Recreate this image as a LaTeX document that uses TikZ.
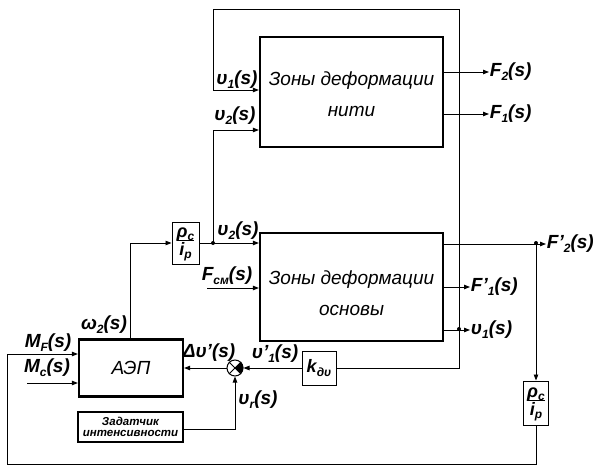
\documentclass[tikz,border=0pt]{standalone}
\usepackage{fontspec}
\setmainfont{Liberation Sans}
\usetikzlibrary{arrows.meta,calc}
\newcommand\sbx[1]{\raisebox{-0.35ex}{\fontsize{12}{12}\selectfont #1}}
\newcommand\sbs[1]{\raisebox{-0.35ex}{\fontsize{12}{12}\selectfont #1}}
\newcommand\rhofrac{\fontsize{18}{18}\selectfont\itshape\bfseries\setlength\arrayrulewidth{1pt}\begin{tabular}{@{}c@{}}ρ\sbs{c}\\[-3pt]\hline\rule{0pt}{15pt}i\sbs{p}\end{tabular}}
\begin{document}
\begin{tikzpicture}[x=1pt,y=-1pt,
  >={Triangle[length=6pt,width=4.5pt]},
  line width=0.9pt,
  bigbox/.style={draw,line width=2.2pt,inner sep=0pt,align=center,
    font=\fontsize{19}{31}\selectfont\itshape},
  smallbox/.style={draw,line width=1pt,inner sep=0pt},
  lab/.style={inner sep=0.5pt,font=\fontsize{19}{20}\selectfont\itshape\bfseries},
  dot/.style={circle,fill,inner sep=0pt,minimum size=4pt}]
\useasboundingbox (0,0) rectangle (602,468);
% blocks
\node[bigbox,minimum width=183,minimum height=110] (top) at (351.5,92) {\rule{0pt}{19pt}Зоны деформации\\нити};
\node[bigbox,minimum width=183,minimum height=108] (bot) at (351.5,287) {\rule{0pt}{26pt}Зоны деформации\\основы};
\node[bigbox,minimum width=104,minimum height=57] (aep) at (131,368) {АЭП};
\node[bigbox,minimum width=105,minimum height=30,
  font=\fontsize{11.5}{11}\selectfont\itshape\bfseries] (zad) at (130.5,427) {Задатчик\\интенсивности};
\node[smallbox,minimum width=27,minimum height=42] (rho1) at (185.5,243) {\rhofrac};
\node[smallbox,minimum width=25,minimum height=44] (rho2) at (536,403) {\rhofrac};
\node[smallbox,minimum width=34,minimum height=34] (kdv) at (319,368)
  {\fontsize{18}{18}\selectfont\itshape\bfseries k\sbs{дυ}};
\node[draw,circle,line width=1pt,minimum size=16pt,inner sep=0pt] (sum) at (235,368) {};
\fill (sum.center) -- (sum.45) arc[start angle=45,end angle=-45,radius=8pt] -- cycle;
\draw[line width=0.8pt] (sum.45) -- (sum.225) (sum.135) -- (sum.-45);
% coordinates
\coordinate (j1) at (459,329);
\coordinate (d2) at (213,243);
\coordinate (d3) at (536,243);
\coordinate (fb) at (7,464);
\coordinate (fsm) at (207,288);
\coordinate (mc) at (27,383);
\node[dot] at (j1) {};
\node[dot] at (d2) {};
\node[dot] at (d3) {};
% labels
\node[lab] (lu1) at (237,80) {υ\sbx{1}(s)};
\node[lab] (lu2a) at (235,116) {υ\sbx{2}(s)};
\node[lab] (lu2b) at (238,231) {υ\sbx{2}(s)};
\node[lab] (lfsm) at (227,276) {F\sbx{см}(s)};
\node[lab] (lw2) at (104,325) {ω\sbx{2}(s)};
\node[lab] (lmf) at (48,343) {M\sbx{F}(s)};
\node[lab] (lmc) at (47,368) {M\sbx{c}(s)};
\node[lab] (ldu) at (209,353) {Δυ'(s)};
\node[lab] (lu1p) at (275,354) {υ'\sbx{1}(s)};
\node[lab] (lur) at (258,400) {υ\sbx{r}(s)};
\node[lab,anchor=west] (lF2) at (489,72) {F\sbx{2}(s)};
\node[lab,anchor=west] (lF1) at (489,114) {F\sbx{1}(s)};
\node[lab,anchor=west] (lF2p) at (546,244) {F'\sbx{2}(s)};
\node[lab,anchor=west] (lF1p) at (470,287) {F'\sbx{1}(s)};
\node[lab,anchor=west] (lu1o) at (470,330) {υ\sbx{1}(s)};
% connectors
\draw[->] (j1) -- (459,9) -| (213,90) -- ([yshift=2pt]top.west);
\draw (j1) |- (kdv.east);
\draw[->] (d2) |- ([yshift=-38pt]top.west);
\draw[->] (rho1.east) -- (bot.west |- rho1.east);
\draw[->] ([xshift=-1pt]aep.north) |- (rho1.west);
\draw[->] (fsm) -- (bot.west |- fsm);
\draw[->] (rho2.south) |- (fb) |- ([yshift=14pt]aep.west);
\draw[->] (mc) -- (aep.west |- mc);
\draw[->] (sum.west) -- (aep.east |- sum.west);
\draw[->] (kdv.west) -- (sum.east);
\draw[->] ([yshift=-2pt]zad.east) -| (sum.south);
\draw[->] (top.east |- lF2.west) -- (lF2.west);
\draw[->] (top.east |- lF1.west) -- (lF1.west);
\draw[->] (bot.east |- lF2p.west) -- (lF2p.west);
\draw[->] (d3) -- (rho2.north);
\draw[->] (bot.east |- lF1p.west) -- (lF1p.west);
\draw[->] (bot.east |- lu1o.west) -- (lu1o.west);
\end{tikzpicture}
\end{document}
